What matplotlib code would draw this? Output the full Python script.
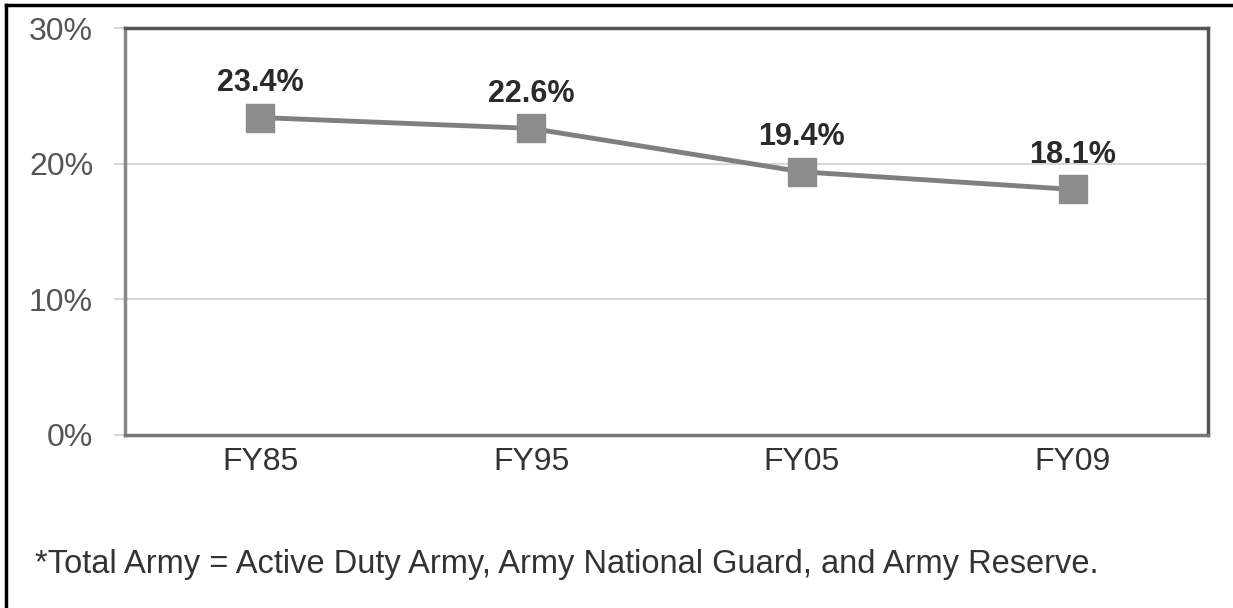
import matplotlib.pyplot as plt
from matplotlib.lines import Line2D
from matplotlib.ticker import FuncFormatter

# data
years = ["FY85", "FY95", "FY05", "FY09"]
share = [23.4, 22.6, 19.4, 18.1]
yticks = [0, 10, 20, 30]
note = "*Total Army = Active Duty Army, Army National Guard, and Army Reserve."

plt.rcParams['font.family'] = ['Liberation Sans', 'DejaVu Sans']

fig = plt.figure(figsize=(12.33, 6.08), dpi=100)
ax = fig.add_axes([125 / 1233, 1 - 435 / 608, 1083 / 1233, 407 / 608])

x = range(len(years))
ax.plot(x, share, color="#7f7f7f", lw=3.5, marker="s", ms=20,
        markerfacecolor="#8c8c8c", markeredgecolor="#8c8c8c", zorder=3)

for i, v in enumerate(share):
    ax.annotate(f"{v:.1f}%", (i, v), xytext=(0, 14), textcoords="offset points",
                ha="center", va="bottom", fontsize=22, fontweight="bold",
                color="#2a2a2a")

ax.set_xlim(-0.5, len(years) - 0.5)
ax.set_ylim(0, 30)
ax.set_yticks(yticks)
ax.yaxis.set_major_formatter(FuncFormatter(lambda v, p: f"{v:.0f}%"))
ax.set_xticks(list(x))
ax.set_xticklabels(years)
ax.grid(axis="y", color="#cfcfcf", lw=1.2)
ax.set_axisbelow(True)

ax.tick_params(axis="y", length=8, width=1.2, color="#cfcfcf", pad=15,
               labelsize=23, labelcolor="#555555")
ax.tick_params(axis="x", length=0, pad=9, labelsize=23, labelcolor="#333333")

ax.spines["left"].set_color("#888888")
ax.spines["bottom"].set_color("#777777")
ax.spines["top"].set_color("#555555")
ax.spines["right"].set_color("#555555")
for s in ax.spines.values():
    s.set_linewidth(2.5)

fig.text(35 / 1233, 1 - 565 / 608, note, fontsize=23.5, color="#333333",
         ha="left", va="center")

# outer frame (top and left edges of the cropped box)
fig.add_artist(Line2D([6 / 1233, 6 / 1233], [0, 1 - 5 / 608], color="black", lw=2.5))
fig.add_artist(Line2D([6 / 1233, 1], [1 - 5 / 608, 1 - 5 / 608], color="black", lw=2.5))

fig.savefig("out.png", dpi=100)
